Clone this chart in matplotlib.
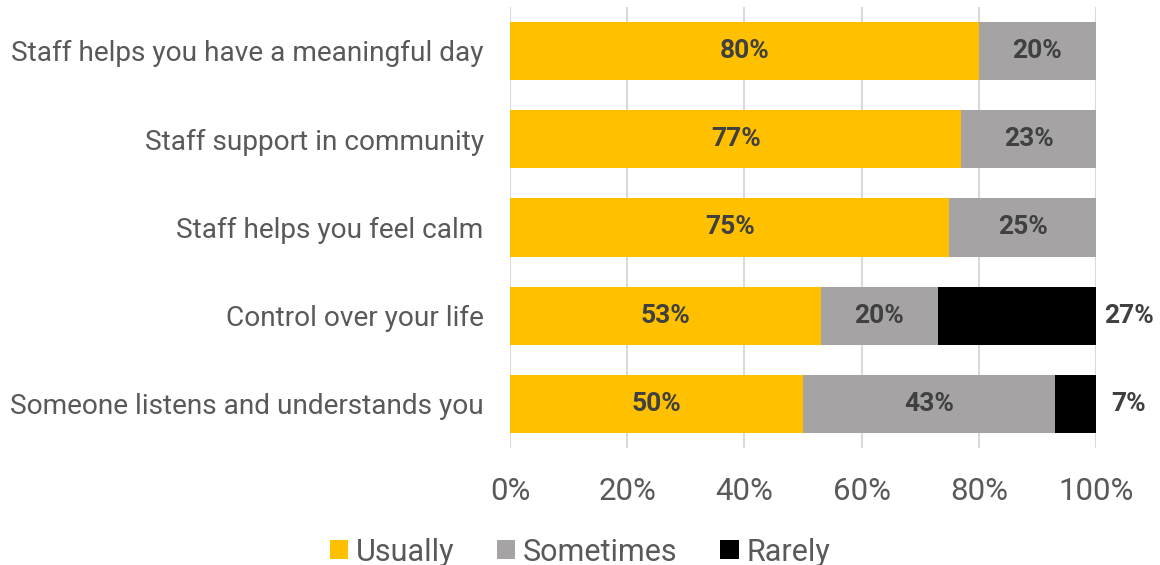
import matplotlib.pyplot as plt
import numpy as np

plt.rcParams['font.family'] = ['Roboto', 'DejaVu Sans']

categories = ['Staff helps you have a meaningful day',
              'Staff support in community',
              'Staff helps you feel calm',
              'Control over your life',
              'Someone listens and understands you']
usually = [80, 77, 75, 53, 50]
sometimes = [20, 23, 25, 20, 43]
rarely = [0, 0, 0, 27, 7]
series_names = ['Usually', 'Sometimes', 'Rarely']
colors = ['#FFC000', '#A5A3A4', '#000000']

fig = plt.figure(figsize=(11.6, 5.65), dpi=100)
ax = fig.add_axes([0.4397, 0.207, 0.5051, 0.781])

y = np.arange(len(categories))
left = np.zeros(len(categories))
bars = []
for vals, name, col in zip([usually, sometimes, rarely], series_names, colors):
    vals = np.array(vals, dtype=float)
    b = ax.barh(y, vals, left=left, height=0.66, color=col, label=name, zorder=3)
    bars.append((b, vals, left.copy()))
    left += vals

# value labels: inside for the two lighter series, to the right for the black one
for i, (b, vals, lft) in enumerate(bars):
    for yi, v, l in zip(y, vals, lft):
        if v <= 0:
            continue
        if i < 2:
            ax.text(l + v / 2, yi, f'{int(v)}%', ha='center', va='center',
                    fontsize=19, fontweight='bold', color='#404040', zorder=4)
        else:
            ax.text(105.6, yi, f'{int(v)}%', ha='center', va='center',
                    fontsize=19, fontweight='bold', color='#404040',
                    clip_on=False)

ax.set_xlim(0, 100)
ax.set_ylim(len(categories) - 0.5, -0.5)
ax.set_yticks(y)
ax.set_yticklabels(categories, fontsize=20.2, color='#595959')
ax.set_xticks(np.arange(0, 101, 20))
ax.set_xticklabels([f'{t}%' for t in range(0, 101, 20)], fontsize=22.5, color='#595959')
ax.tick_params(axis='y', length=0, pad=19)
ax.tick_params(axis='x', length=0, pad=21)
ax.grid(axis='x', color='#D9D9D9', linewidth=1.5, zorder=0)
for s in ax.spines.values():
    s.set_visible(False)

leg = fig.legend(loc='center', bbox_to_anchor=(0.5, 0.023), ncol=3, frameon=False,
                 fontsize=22, handlelength=0.6, handleheight=0.6,
                 handletextpad=0.25, columnspacing=1.4, borderpad=0)
for t in leg.get_texts():
    t.set_color('#595959')

fig.savefig('out.png', dpi=100)
